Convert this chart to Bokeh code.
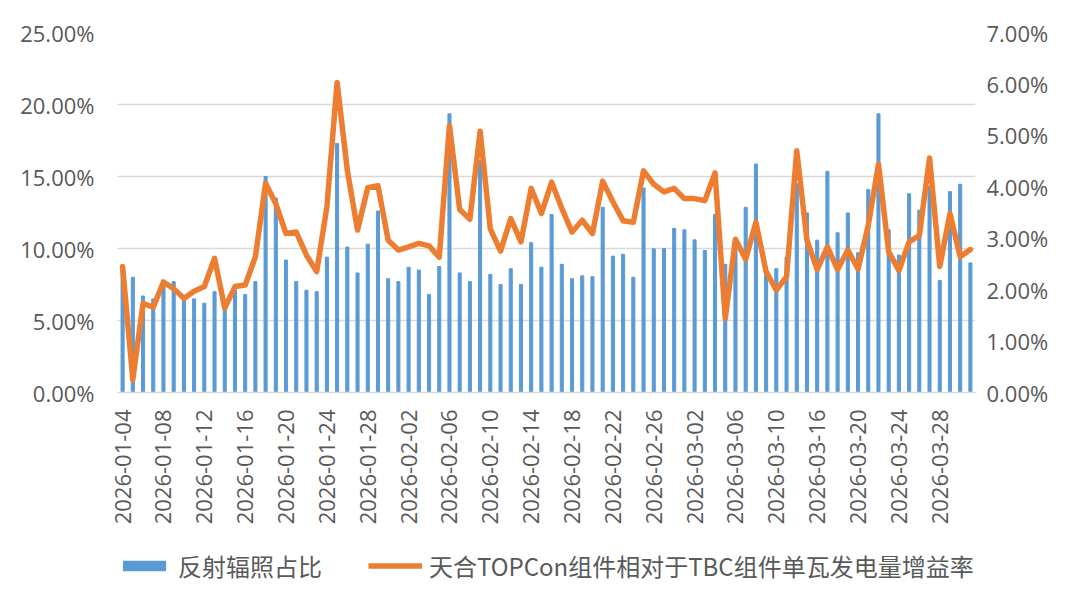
import numpy as np
import pandas as pd
from math import pi
from bokeh.plotting import figure
from bokeh.layouts import column
from bokeh.models import (Range1d, LinearAxis, FixedTicker, NumeralTickFormatter,
                          Legend, LegendItem, ColumnDataSource)
from bokeh.embed import file_html
from bokeh.resources import INLINE

# ---- categories (dates) ----
all_days = pd.date_range("2026-01-04", "2026-03-31")
missing_days = ["2026-01-31", "2026-03-13", "2026-03-14"]
dates = [d.strftime("%Y-%m-%d") for d in all_days if d.strftime("%Y-%m-%d") not in missing_days]

# ---- series values (percent) ----
reflect_pct = [
    8.6, 8.0, 6.7, 6.5, 7.6, 7.7, 6.6, 6.5, 6.2, 7.0,
    5.9, 7.1, 6.8, 7.7, 15.0, 13.5, 9.2, 7.7, 7.1, 7.0,
    9.4, 17.3, 10.1, 8.3, 10.3, 12.6, 7.9, 7.7, 8.7, 8.5,
    6.8, 8.75, 19.35, 8.3, 7.7, 16.1, 8.2, 7.5, 8.6, 7.5,
    10.4, 8.7, 12.36, 8.9, 7.9, 8.1, 8.04, 12.86, 9.47, 9.6,
    8.0, 14.2, 9.98, 10.0, 11.4, 11.3, 10.6, 9.86, 12.36, 8.9,
    10.6, 12.86, 15.87, 8.4, 8.6, 9.4, 14.5, 12.47, 10.58, 15.36,
    11.09, 12.47, 9.7, 14.09, 19.35, 11.3, 9.54, 13.8, 12.66, 14.3,
    7.78, 13.95, 14.46, 9.0,
]
gain_pct = [
    2.45, 0.25, 1.73, 1.66, 2.15, 2.02, 1.83, 1.97, 2.06, 2.61,
    1.64, 2.06, 2.09, 2.64, 4.07, 3.67, 3.09, 3.12, 2.67, 2.35,
    3.61, 6.03, 4.32, 3.16, 3.98, 4.02, 2.96, 2.77, 2.83, 2.90,
    2.85, 2.63, 5.19, 3.56, 3.37, 5.08, 3.18, 2.75, 3.38, 2.93,
    3.97, 3.48, 4.09, 3.58, 3.12, 3.35, 3.09, 4.11, 3.71, 3.34,
    3.31, 4.31, 4.05, 3.90, 3.97, 3.77, 3.77, 3.73, 4.27, 1.44,
    2.98, 2.59, 3.31, 2.35, 1.99, 2.25, 4.70, 2.96, 2.39, 2.83,
    2.39, 2.77, 2.40, 3.25, 4.44, 2.74, 2.37, 2.93, 3.05, 4.56,
    2.45, 3.48, 2.64, 2.78,
]
left_ticks = [0, 0.05, 0.10, 0.15, 0.20, 0.25]
right_ticks = [0, 0.01, 0.02, 0.03, 0.04, 0.05, 0.06, 0.07]
label_every = 4

series1_name = "反射辐照占比"
series2_name = "天合TOPCon组件相对于TBC组件单瓦发电量增益率"

BAR_COLOR = "#5B9BD5"
LINE_COLOR = "#ED7D31"

n = len(dates)
src = ColumnDataSource(dict(
    x=list(range(n)),
    date=dates,
    refl=list(np.array(reflect_pct) / 100.0),
    gain=list(np.array(gain_pct) / 100.0),
))

TICK_FONT = "Open Sans"
TICK_COLOR = "#595959"
TICK_SIZE = "22px"

W = 1064
H_MAIN = 540
H_LEG = 54

p = figure(width=W, height=H_MAIN, output_backend="svg", toolbar_location=None,
           x_range=Range1d(-0.5, n - 0.5), y_range=Range1d(0, 0.25),
           min_border_left=117, min_border_right=89, min_border_top=32,
           min_border_bottom=H_MAIN - 392)
p.outline_line_color = None
p.background_fill_color = "white"
p.border_fill_color = "white"

p.extra_y_ranges = {"right": Range1d(0, 0.07)}

bars = p.vbar(x="x", top="refl", width=0.3, color=BAR_COLOR, source=src)
line = p.line(x="x", y="gain", y_range_name="right", line_color=LINE_COLOR,
              line_width=5.5, line_join="round", line_cap="round", source=src)

# left axis
ly = p.yaxis[0]
ly.ticker = FixedTicker(ticks=left_ticks)
ly.formatter = NumeralTickFormatter(format="0.00%")
ly.axis_line_color = None
ly.major_tick_line_color = None
ly.minor_tick_line_color = None
ly.major_tick_out = 0
ly.major_tick_in = 0
ly.major_label_standoff = 23
ly.major_label_text_font = TICK_FONT
ly.major_label_text_font_size = TICK_SIZE
ly.major_label_text_color = TICK_COLOR

# right axis
ry = LinearAxis(y_range_name="right", ticker=FixedTicker(ticks=right_ticks),
                formatter=NumeralTickFormatter(format="0.00%"))
ry.axis_line_color = None
ry.major_tick_line_color = None
ry.minor_tick_line_color = None
ry.major_tick_out = 0
ry.major_tick_in = 0
ry.major_label_standoff = 11
ry.major_label_text_font = TICK_FONT
ry.major_label_text_font_size = TICK_SIZE
ry.major_label_text_color = TICK_COLOR
p.add_layout(ry, "right")

# x axis
xa = p.xaxis[0]
tick_idx = list(range(0, n, label_every))
xa.ticker = FixedTicker(ticks=tick_idx)
xa.major_label_overrides = {i: dates[i] for i in tick_idx}
xa.major_label_orientation = pi / 2
xa.axis_line_color = "#d9d9d9"
xa.axis_line_width = 1.5
xa.major_tick_line_color = None
xa.minor_tick_line_color = None
xa.major_tick_out = 0
xa.major_tick_in = 0
xa.major_label_standoff = 17
xa.major_label_text_font = TICK_FONT
xa.major_label_text_font_size = TICK_SIZE
xa.major_label_text_color = TICK_COLOR

p.xgrid.grid_line_color = None
p.ygrid.grid_line_color = "#d9d9d9"
p.ygrid.grid_line_width = 1.5

# ---- legend strip (separate figure below the chart) ----
q = figure(width=W, height=H_LEG, output_backend="svg", toolbar_location=None,
           x_range=Range1d(0, 1), y_range=Range1d(0, 1),
           min_border_left=0, min_border_right=0, min_border_top=0, min_border_bottom=0)
q.axis.visible = False
q.grid.grid_line_color = None
q.outline_line_color = None
q.border_fill_color = "white"
q.background_fill_color = "white"
# proxy renderers far outside the visible range; only their legend glyphs show
proxy = ColumnDataSource(dict(x=[0.4, 0.6], top=[60, 60], bottom=[50, 50], y=[55, 55]))
lb = q.vbar(x="x", top="top", bottom="bottom", width=0.0, fill_color=BAR_COLOR,
            line_color=None, source=proxy)
ll = q.line(x="x", y="y", line_color=LINE_COLOR, line_width=5.5, source=proxy)

legend = Legend(items=[LegendItem(label=series1_name, renderers=[lb]),
                       LegendItem(label=series2_name, renderers=[ll])],
                orientation="horizontal", location=(0, 11))
legend.glyph_width = 54
legend.glyph_height = 13
legend.label_standoff = 7
legend.spacing = 46
legend.padding = 0
legend.margin = 0
legend.border_line_color = None
legend.background_fill_alpha = 0
legend.label_text_font = "Noto Sans CJK SC"
legend.label_text_font_size = "24px"
legend.label_text_color = TICK_COLOR
q.add_layout(legend, "center")

open("out.html", "w").write(file_html(column(p, q, spacing=0), INLINE))
